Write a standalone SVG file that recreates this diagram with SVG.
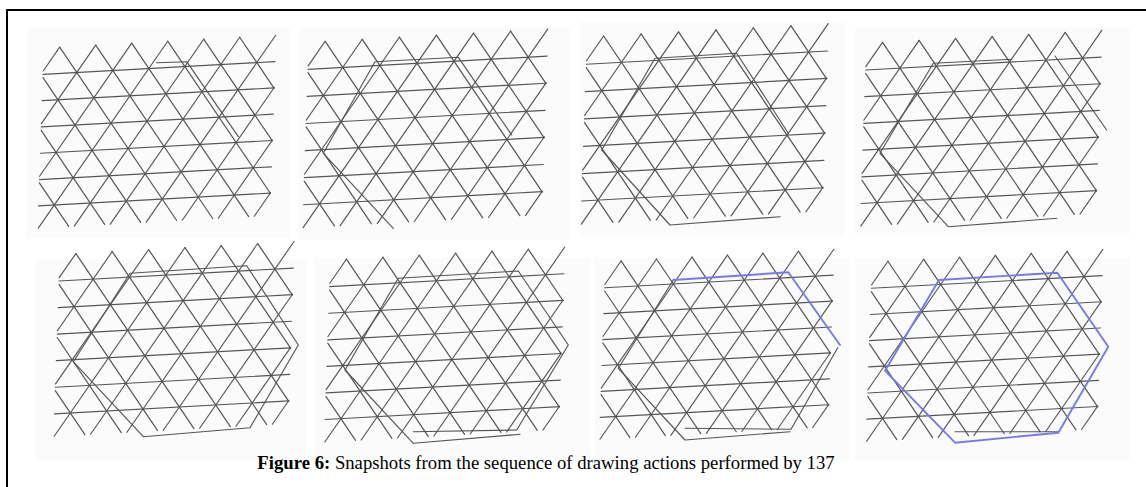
<svg xmlns="http://www.w3.org/2000/svg" xmlns:xlink="http://www.w3.org/1999/xlink" width="1146" height="487" viewBox="0 0 1146 487">
<style>
.bg{fill:#fbfbfb;stroke:none}
.g line{stroke:#555;stroke-width:1.15;stroke-linecap:round}
.s{fill:none;stroke:#555;stroke-width:1.15;stroke-linejoin:round;stroke-linecap:round}
.b{fill:none;stroke:#7878e8;stroke-width:1.9;stroke-linejoin:round;stroke-linecap:round}
.frame{stroke:#000;stroke-width:2;fill:none}
.cap{font-family:"Liberation Serif","Times New Roman",serif;font-size:18.7px;fill:#000}
</style>
<defs>
<g id="grid" class="g">
<line x1="0" y1="26" x2="232" y2="26"/>
<line x1="0" y1="52" x2="232" y2="52"/>
<line x1="0" y1="78" x2="232" y2="78"/>
<line x1="0" y1="104" x2="232" y2="104"/>
<line x1="0" y1="130" x2="232" y2="130"/>
<line x1="0" y1="156" x2="232" y2="156"/>
<line x1="0" y1="133.3" x2="30.9" y2="178"/>
<line x1="0" y1="81.3" x2="66.9" y2="178"/>
<line x1="0" y1="29.3" x2="102.9" y2="178"/>
<line x1="15.7" y1="0" x2="138.9" y2="178"/>
<line x1="51.7" y1="0" x2="174.9" y2="178"/>
<line x1="87.7" y1="0" x2="210.9" y2="178"/>
<line x1="123.7" y1="0" x2="232" y2="156.4"/>
<line x1="159.7" y1="0" x2="232" y2="104.4"/>
<line x1="195.7" y1="0" x2="232" y2="52.4"/>
<line x1="15.7" y1="0" x2="0" y2="22.7"/>
<line x1="51.7" y1="0" x2="0" y2="74.7"/>
<line x1="87.7" y1="0" x2="0" y2="126.7"/>
<line x1="123.7" y1="0" x2="0.5" y2="178"/>
<line x1="159.7" y1="0" x2="36.5" y2="178"/>
<line x1="195.7" y1="0" x2="72.5" y2="178"/>
<line x1="231.7" y1="0" x2="108.5" y2="178"/>
<line x1="232" y1="51.6" x2="144.5" y2="178"/>
<line x1="232" y1="103.6" x2="180.5" y2="178"/>
<line x1="232" y1="155.6" x2="216.5" y2="178"/>
</g>
</defs>
<g id="frame">
<line class="frame" x1="6" y1="10" x2="1146" y2="10"/>
<line class="frame" x1="7" y1="9" x2="7" y2="487"/>
</g>
<g id="snapshot-1">
<rect class="bg" x="27" y="28" width="263" height="210"/>
<use xlink:href="#grid" href="#grid" transform="matrix(1 -0.055 -0.035 1.012 44 48)"/>
<polyline class="s" points="156.7,62.7 186.7,61.7 238.3,136.7"/>
</g>
<g id="snapshot-2">
<rect class="bg" x="298" y="28" width="272" height="212"/>
<use xlink:href="#grid" href="#grid" transform="matrix(1.03 -0.0567 -0.036 1.042 309 42.2)"/>
<polyline class="s" points="393.3,228.3 323.3,153.3 375,61.7 458.3,57.3 511.7,135"/>
</g>
<g id="snapshot-3">
<rect class="bg" x="580" y="22" width="265" height="215"/>
<use xlink:href="#grid" href="#grid" transform="matrix(1.04 -0.0572 -0.0364 1.052 587.3 36.9)"/>
<polyline class="s" points="780,216.7 670,225 601.7,150 655,58.3 736.7,53.3 788.3,133.3"/>
</g>
<g id="snapshot-4">
<rect class="bg" x="855" y="28" width="275" height="207"/>
<use xlink:href="#grid" href="#grid" transform="matrix(1.015 -0.0558 -0.0355 1.027 866.6 43.3)"/>
<polyline class="s" points="1056.7,218.3 948.3,226.7 880,153.3 933.3,63.3 1011.7,59.3"/>
<polyline class="s" points="1055,56 1106.7,130"/>
</g>
<g id="snapshot-5">
<rect class="bg" x="35" y="260" width="272" height="200"/>
<use xlink:href="#grid" href="#grid" transform="matrix(1.01 -0.0556 -0.0354 1.022 60 254.4)"/>
<polyline class="s" points="143.3,436.7 73.3,361.7 130,273.3 246.7,265.7 298.3,345 250,427.7 143.3,436.7"/>
</g>
<g id="snapshot-6">
<rect class="bg" x="315" y="258" width="275" height="202"/>
<use xlink:href="#grid" href="#grid" transform="matrix(1.01 -0.0556 -0.0354 1.022 330.6 260.1)"/>
<polyline class="s" points="413.3,443.3 345,370 398.3,278.3 518.3,271 568.3,345 516.7,430 413.3,431.7"/>
<line class="s" x1="413.3" y1="443.3" x2="520" y2="434.3"/>
</g>
<g id="snapshot-7">
<rect class="bg" x="595" y="258" width="255" height="202"/>
<use xlink:href="#grid" href="#grid" transform="matrix(0.985 -0.0542 -0.0345 0.997 605.6 261.8)"/>
<polyline class="s" points="837.7,347.7 791,429.3 685,428.3"/>
<polyline class="s" points="790,431.7 685,440 618.3,368.3 673.3,280"/>
<polyline class="b" points="673.3,280 788.3,272.3 840,345"/>
</g>
<g id="snapshot-8">
<rect class="bg" x="855" y="258" width="275" height="202"/>
<use xlink:href="#grid" href="#grid" transform="matrix(0.995 -0.0547 -0.0348 1.007 872.3 262.1)"/>
<line class="s" x1="955" y1="431.7" x2="1058.3" y2="431.7"/>
<polygon class="b" points="939,280 1057.3,272.7 1108.3,346.7 1058.3,432.7 955,442.7 885,370.7"/>
</g>
<g id="caption">
<text class="cap" x="546" y="469" text-anchor="middle"><tspan font-weight="bold">Figure 6:</tspan> Snapshots from the sequence of drawing actions performed by 137</text>
</g>
</svg>
